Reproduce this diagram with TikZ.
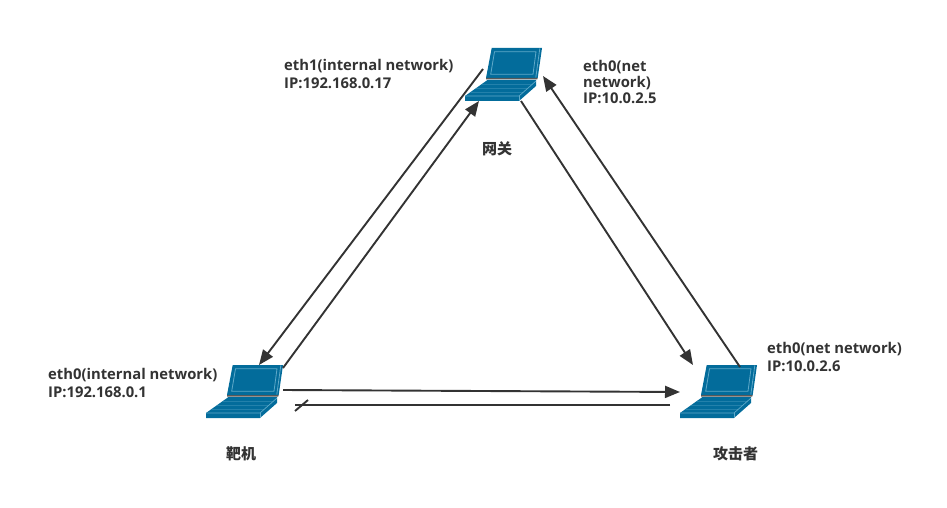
\documentclass[tikz,border=0pt]{standalone}
\usepackage{fontspec}
\setmainfont{Open Sans}
\newfontfamily\cjk{Noto Sans CJK SC}
\usetikzlibrary{arrows.meta}
\definecolor{lapblue}{HTML}{036C9B}
\definecolor{lapline}{HTML}{5FA9C9}
\definecolor{inkgray}{HTML}{333333}
\tikzset{
  link/.style={draw=inkgray, line width=1.9pt, -{Triangle[length=15pt,width=12pt]}},
  plainlink/.style={draw=inkgray, line width=1.9pt},
  label/.style={text=inkgray, font=\fontsize{14.8}{18}\selectfont\bfseries, align=left, anchor=north west, inner sep=0pt},
  cjklabel/.style={text=inkgray, font=\fontsize{15}{18}\selectfont\cjk\bfseries, inner sep=0pt},
  laptop/.pic={
    % screen
    \fill[lapblue] (26.7,0) -- (77,0) -- (72.7,30) -- (21,30) -- cycle;
    \draw[lapline, line width=0.8pt] (29.5,3.7) -- (71,3.7) -- (68,26.3) -- (25.7,26.3) -- cycle;
    \draw[lapline, line width=0.8pt] (74.8,0.5) -- (70.8,29.5);
    \fill[gray!70!black] (21,30) -- (72.7,30) -- (72.2,31.5) -- (21,31.5) -- cycle;
    % keyboard
    \fill[lapblue] (22.5,32) -- (71,32) -- (71,38) -- (54,53) -- (0,53) -- (0,48) -- cycle;
    \foreach \i in {1,2,3} \draw[lapline!35!lapblue, line width=0.4pt] (22.5-\i*5.6,32+\i*4) -- (71-\i*4.2,32+\i*4);
    \draw[lapline, line width=0.7pt] (0,48) -- (54,48) -- (71,33);
    \draw[lapline, line width=0.7pt] (54,48) -- (54,53);
  }
}

\begin{document}
\begin{tikzpicture}[x=1pt,y=-1pt]
  \useasboundingbox (0,0) rectangle (947,508);

  % Laptops
  \pic at (465,48) {laptop};
  \pic at (206,365) {laptop};
  \pic at (680,365) {laptop};

  % Free ends of the connectors
  \coordinate (gwA) at (483,69);
  \coordinate (gwB) at (479,101);
  \coordinate (gwC) at (521,101);
  \coordinate (gwD) at (543,76);
  \coordinate (tgA) at (259,365);
  \coordinate (tgB) at (283,368);
  \coordinate (tgC) at (283,390);
  \coordinate (tgD) at (295,405);
  \coordinate (atA) at (693,365);
  \coordinate (atB) at (740,367);
  \coordinate (atC) at (680,392);
  \coordinate (atD) at (670,405);
  \coordinate (cutA) at (295,411);
  \coordinate (cutB) at (308,400);

  % Connectors
  \draw[link] (gwA) -- (tgA);
  \draw[link] (tgB) -- (gwB);
  \draw[link] (gwC) -- (atA);
  \draw[link] (atB) -- (gwD);
  \draw[link] (tgC) -- (atC);
  \draw[plainlink] (atD) -- (tgD);
  \draw[plainlink] (cutA) -- (cutB);

  % Labels
  \node[label] (gwInner) at (284,59.5) {eth1(internal network)\\IP:192.168.0.17};
  \node[label, font=\fontsize{14.8}{15.8}\selectfont\bfseries] (gwOuter) at (583,60) {eth0(net\\network)\\IP:10.0.2.5};
  \node[label] (tgInner) at (48,368.5) {eth0(internal network)\\IP:192.168.0.1};
  \node[label] (atOuter) at (767,342.5) {eth0(net network)\\IP:10.0.2.6};
  \node[cjklabel] (gwName) at (497,149) {网关};
  \node[cjklabel] (tgName) at (241,454) {靶机};
  \node[cjklabel] (atName) at (735.5,454) {攻击者};
\end{tikzpicture}
\end{document}
